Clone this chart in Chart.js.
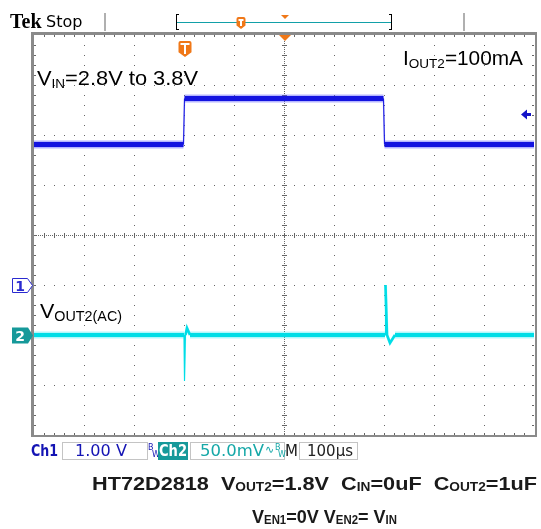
<!DOCTYPE html>
<html>
<head>
<meta charset="utf-8">
<script src="https://cdn.jsdelivr.net/npm/chart.js@4"></script>
<style>
  html, body { margin: 0; padding: 0; background: #fff; }
  canvas { display: block; }
</style>
</head>
<body>
<canvas id="scope" width="541" height="529"></canvas>
<script>
'use strict';

// time axis in microseconds (100us/div, 10 divs)
let timeTicks = [-500, -400, -300, -200, -100, 0, 100, 200, 300, 400, 500];

// Ch1 = VIN, volts (1.00 V/div)
let ch1Time = [-500, -201, -199, 199, 201, 500];
let ch1Volts = [2.81, 2.81, 3.73, 3.73, 2.81, 2.81];

// Ch2 = VOUT2 (AC coupled), millivolts (50.0 mV/div)
let ch2Time = [-500, -200, -199, -197, -194, -188, 202, 203, 206, 212, 222, 500];
let ch2MilliVolts = [0, 0, -46, 0, 7, 0, 0, 50, 0, -8, 0, 0];

let ch1Color = '#1414e0';
let ch2Color = '#00dde6';

function toPoints(xs, ys) {
  let pts = [];
  for (let i = 0; i < xs.length; i++) {
    pts.push({ x: xs[i], y: ys[i] });
  }
  return pts;
}

// flat parts of the trace are thick (noise), steep edges thin
function traceWidth(flat, edge) {
  return function (ctx) {
    let dx = Math.abs(ctx.p1.parsed.x - ctx.p0.parsed.x);
    if (dx < 3) return edge;
    if (dx < 50) return edge + 1.5;
    return flat;
  };
}

function richWidth(ctx, parts, bigFont, smallFont) {
  let w = 0;
  for (let i = 0; i < parts.length; i++) {
    ctx.font = parts[i][1] ? smallFont : bigFont;
    w += ctx.measureText(parts[i][0]).width;
  }
  return w;
}

function drawRich(ctx, x, y, parts, bigFont, smallFont, subDrop) {
  for (let i = 0; i < parts.length; i++) {
    let text = parts[i][0];
    let sub = parts[i][1];
    ctx.font = sub ? smallFont : bigFont;
    ctx.fillText(text, x, sub ? y + subDrop : y);
    x += ctx.measureText(text).width;
  }
  return x;
}

// squeeze / stretch a line of text so it spans the same width as in the picture
function drawRichFit(ctx, x, y, parts, bigFont, smallFont, subDrop, width) {
  let w = richWidth(ctx, parts, bigFont, smallFont);
  ctx.save();
  ctx.translate(x, y);
  ctx.scale(width / w, 1);
  drawRich(ctx, 0, 0, parts, bigFont, smallFont, subDrop);
  ctx.restore();
}

function triggerT(ctx, cx, top, w, h) {
  ctx.fillStyle = '#f07818';
  ctx.beginPath();
  ctx.moveTo(cx - w / 2, top + 2);
  ctx.quadraticCurveTo(cx - w / 2, top, cx - w / 2 + 2, top);
  ctx.lineTo(cx + w / 2 - 2, top);
  ctx.quadraticCurveTo(cx + w / 2, top, cx + w / 2, top + 2);
  ctx.lineTo(cx + w / 2, top + h * 0.7);
  ctx.lineTo(cx, top + h);
  ctx.lineTo(cx - w / 2, top + h * 0.7);
  ctx.closePath();
  ctx.fill();
  ctx.fillStyle = '#fff';
  ctx.fillRect(cx - w / 2 + 2, top + 2, w - 4, 2);
  ctx.fillRect(cx - 1, top + 2, 2, h - 5);
}

let gridPlugin = {
  id: 'scopeGrid',
  beforeDatasetsDraw(chart) {
    let ctx = chart.ctx;
    let xs = chart.scales.x;
    let ys = chart.scales.y1;
    let area = chart.chartArea;
    ctx.save();
    ctx.fillStyle = '#666';
    // dotted divisions
    for (let i = 1; i < timeTicks.length - 1; i++) {
      let px = Math.round(xs.getPixelForValue(timeTicks[i]));
      for (let y = area.top + 10; y < area.bottom; y += 10) ctx.fillRect(px, y, 1, 1);
    }
    for (let v = -2; v <= 4; v++) {
      let py = Math.round(ys.getPixelForValue(v));
      for (let x = area.left + 10; x < area.right; x += 10) ctx.fillRect(x, py, 1, 1);
    }
    // centre cross with minor ticks
    let cx = Math.round(xs.getPixelForValue(0));
    let cy = Math.round(ys.getPixelForValue(1));
    for (let y = area.top; y < area.bottom; y += 2) ctx.fillRect(cx, y, 1, 1);
    for (let x = area.left; x < area.right; x += 2) ctx.fillRect(x, cy, 1, 1);
    for (let y = area.top + 10; y < area.bottom; y += 10) ctx.fillRect(cx - 2, y, 5, 1);
    for (let x = area.left + 10; x < area.right; x += 10) ctx.fillRect(x, cy - 2, 1, 5);
    // ticks on the frame
    for (let x = area.left + 10; x < area.right; x += 10) {
      ctx.fillRect(x, area.top, 1, 2);
      ctx.fillRect(x, area.bottom - 2, 1, 2);
    }
    for (let y = area.top + 10; y < area.bottom; y += 10) {
      ctx.fillRect(area.left, y, 2, 1);
      ctx.fillRect(area.right - 2, y, 2, 1);
    }
    ctx.restore();
  },
  afterDraw(chart) {
    let ctx = chart.ctx;
    let area = chart.chartArea;
    let xs = chart.scales.x;
    let y1 = chart.scales.y1;
    let y2 = chart.scales.y2;
    ctx.save();

    // frame
    ctx.fillStyle = '#8a8a8a';
    ctx.fillRect(area.left - 3, area.top - 3, area.right - area.left + 6, 3);
    ctx.fillRect(area.left - 3, area.bottom, area.right - area.left + 6, 2);
    ctx.fillRect(area.left - 3, area.top - 3, 3, area.bottom - area.top + 5);
    ctx.fillRect(area.right + 1, area.top - 3, 2, area.bottom - area.top + 5);

    // header
    ctx.fillStyle = '#000';
    ctx.textBaseline = 'alphabetic';
    ctx.font = 'bold 20px "Liberation Serif"';
    ctx.fillText('Tek', 10, 28);
    ctx.font = '16px "DejaVu Sans"';
    ctx.fillText('Stop', 46, 27);
    ctx.fillStyle = '#b0b0b0';
    ctx.fillRect(104, 13, 2, 18);
    ctx.fillRect(463, 13, 2, 18);
    ctx.fillStyle = '#000';
    ctx.fillRect(176, 14, 1, 16);
    ctx.fillRect(176, 14, 3, 1);
    ctx.fillRect(176, 29, 3, 1);
    ctx.fillRect(391, 14, 1, 16);
    ctx.fillRect(389, 14, 3, 1);
    ctx.fillRect(389, 29, 3, 1);
    ctx.fillStyle = '#12a0a8';
    ctx.fillRect(177, 22, 214, 1);
    triggerT(ctx, 241, 17, 9, 12);
    ctx.fillStyle = '#f07818';
    ctx.beginPath();
    ctx.moveTo(281, 15); ctx.lineTo(289, 15); ctx.lineTo(285, 19); ctx.closePath();
    ctx.fill();

    // trigger markers in the graticule
    let trigX = Math.round(xs.getPixelForValue(-200)) + 1;
    triggerT(ctx, trigX, area.top + 6, 13, 16);
    let cx = xs.getPixelForValue(0) + 1;
    ctx.fillStyle = '#f07818';
    ctx.beginPath();
    ctx.moveTo(cx - 6, area.top); ctx.lineTo(cx + 6, area.top); ctx.lineTo(cx, area.top + 6); ctx.closePath();
    ctx.fill();

    // Ch1 trigger level arrow
    let ly = Math.round(y1.getPixelForValue(3.43)) + 0.5;
    ctx.fillStyle = '#1414c8';
    ctx.beginPath();
    ctx.moveTo(area.right - 13, ly); ctx.lineTo(area.right - 7, ly - 5); ctx.lineTo(area.right - 7, ly + 5); ctx.closePath();
    ctx.fill();
    ctx.fillRect(area.right - 8, ly - 1.5, 5, 3);

    // channel ground markers
    let g1 = Math.round(y1.getPixelForValue(0)) + 0.5;
    ctx.beginPath();
    ctx.moveTo(12.5, g1 - 7); ctx.lineTo(27.5, g1 - 7); ctx.lineTo(32.5, g1); ctx.lineTo(27.5, g1 + 7); ctx.lineTo(12.5, g1 + 7); ctx.closePath();
    ctx.fillStyle = '#fff';
    ctx.fill();
    ctx.strokeStyle = '#2a2ad0';
    ctx.lineWidth = 1;
    ctx.stroke();
    ctx.fillStyle = '#2a2ad0';
    ctx.font = 'bold 14px "DejaVu Sans"';
    ctx.textAlign = 'center';
    ctx.fillText('1', 20, g1 + 5);
    let g2 = Math.round(y2.getPixelForValue(0)) + 0.5;
    ctx.beginPath();
    ctx.moveTo(12, g2 - 8); ctx.lineTo(28, g2 - 8); ctx.lineTo(33, g2); ctx.lineTo(28, g2 + 8); ctx.lineTo(12, g2 + 8); ctx.closePath();
    ctx.fillStyle = '#16999a';
    ctx.fill();
    ctx.fillStyle = '#fff';
    ctx.fillText('2', 20, g2 + 5);
    ctx.textAlign = 'left';

    // annotations
    ctx.fillStyle = '#000';
    drawRichFit(ctx, 37, 85, [['V', false], ['IN', true], ['=2.8V to 3.8V', false]],
      '21px "Liberation Sans"', '13px "Liberation Sans"', 3, 161);
    drawRichFit(ctx, 403, 65, [['I', false], ['OUT2', true], ['=100mA', false]],
      '20px "Liberation Sans"', '13px "Liberation Sans"', 3, 120);
    drawRichFit(ctx, 40, 318, [['V', false], ['OUT2(AC)', true]],
      '21px "Liberation Sans"', '14px "Liberation Sans"', 3, 82);

    // status bar
    let sy = 456;
    ctx.font = 'bold 15px "DejaVu Sans"';
    ctx.fillStyle = '#1414b4';
    drawRichFit(ctx, 31, sy, [['Ch1', false]], 'bold 15px "DejaVu Sans"', '15px "DejaVu Sans"', 0, 27);
    ctx.strokeStyle = '#c4c4c4';
    ctx.strokeRect(62.5, 442.5, 85, 17);
    drawRichFit(ctx, 75, sy, [['1.00 V', false]], '15px "DejaVu Sans"', '15px "DejaVu Sans"', 0, 52);
    ctx.font = '8px "DejaVu Sans"';
    ctx.fillText('B', 148, 450);
    ctx.fillText('W', 152, 457);
    ctx.fillStyle = '#16999a';
    ctx.fillRect(158, 442, 30, 18);
    ctx.fillStyle = '#fff';
    drawRichFit(ctx, 159, sy, [['Ch2', false]], 'bold 15px "DejaVu Sans"', '15px "DejaVu Sans"', 0, 28);
    ctx.strokeRect(190.5, 442.5, 94, 17);
    ctx.fillStyle = '#16a8a8';
    drawRichFit(ctx, 200, sy, [['50.0mV', false]], '15px "DejaVu Sans"', '15px "DejaVu Sans"', 0, 64);
    ctx.font = '11px "DejaVu Sans"';
    ctx.fillText('\u223F', 265, 453);
    ctx.font = '8px "DejaVu Sans"';
    ctx.fillText('B', 275, 450);
    ctx.fillText('W', 278, 457);
    ctx.fillStyle = '#222';
    ctx.font = '15px "DejaVu Sans"';
    ctx.fillText('M', 285, sy);
    ctx.strokeRect(299.5, 442.5, 58, 17);
    ctx.fillText('100\u00B5s', 307, sy);

    // caption
    ctx.fillStyle = '#1a1a1a';
    let bf = 'bold 19px "Liberation Sans"';
    let sf = 'bold 12px "Liberation Sans"';
    drawRichFit(ctx, 92, 490, [['HT72D2818  V', false], ['OUT2', true], ['=1.8V  C', false], ['IN', true],
      ['=0uF  C', false], ['OUT2', true], ['=1uF', false]], bf, sf, 1, 445);
    drawRichFit(ctx, 252, 523, [['V', false], ['EN1', true], ['=0V V', false], ['EN2', true], ['= V', false], ['IN', true]],
      bf, sf, 1, 145);
    ctx.restore();
  }
};

let ctx = document.getElementById('scope').getContext('2d');
let scopeChart = new Chart(ctx, {
  type: 'line',
  data: {
    datasets: [
      {
        label: 'Ch1',
        data: toPoints(ch1Time, ch1Volts),
        yAxisID: 'y1',
        borderColor: ch1Color,
        borderWidth: 5,
        segment: { borderWidth: traceWidth(5, 1) },
        pointRadius: 0,
        order: 1
      },
      {
        label: 'Ch1 noise',
        data: toPoints(ch1Time, ch1Volts),
        yAxisID: 'y1',
        borderColor: 'rgba(70, 70, 255, 0.4)',
        borderWidth: 8,
        segment: { borderWidth: traceWidth(8, 1.5) },
        pointRadius: 0,
        order: 2
      },
      {
        label: 'Ch2',
        data: toPoints(ch2Time, ch2MilliVolts),
        yAxisID: 'y2',
        borderColor: ch2Color,
        borderWidth: 4,
        segment: { borderWidth: traceWidth(4, 1) },
        pointRadius: 0,
        order: 1
      },
      {
        label: 'Ch2 noise',
        data: toPoints(ch2Time, ch2MilliVolts),
        yAxisID: 'y2',
        borderColor: 'rgba(60, 235, 245, 0.4)',
        borderWidth: 7,
        segment: { borderWidth: traceWidth(7, 1.5) },
        pointRadius: 0,
        order: 2
      }
    ]
  },
  options: {
    responsive: false,
    animation: false,
    layout: { padding: { left: 34, top: 35, right: 7, bottom: 94 } },
    plugins: {
      legend: { display: false },
      tooltip: { enabled: false }
    },
    scales: {
      x: { type: 'linear', min: -500, max: 500, display: false },
      y1: { type: 'linear', min: -3, max: 5, display: false },
      y2: { type: 'linear', min: -100, max: 300, display: false }
    }
  },
  plugins: [gridPlugin]
});
</script>
</body>
</html>
